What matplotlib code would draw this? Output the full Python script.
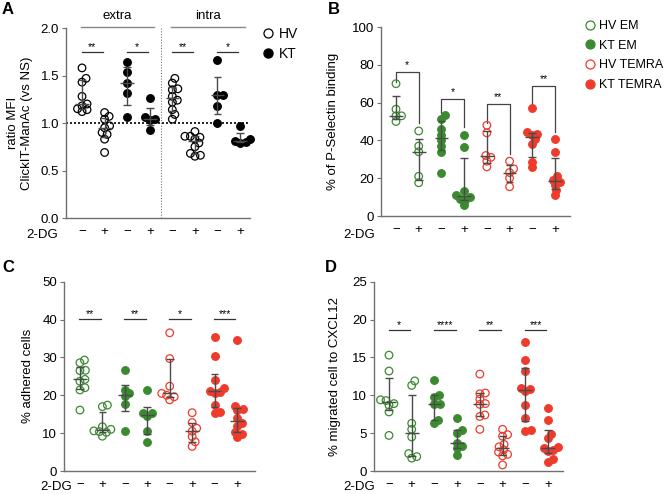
import numpy as np
import matplotlib
matplotlib.use("Agg")
import matplotlib.pyplot as plt
from matplotlib.lines import Line2D

plt.rcParams['font.family'] = ['Liberation Sans', 'DejaVu Sans']

GREEN = '#3b8a30'
RED = '#ee3b2b'
AXC = '#707070'
ERRC = '#4a4a4a'
FS = 9.5

dg_labels = ['\u2212', '+'] * 4

# --- panel A: ratio MFI ClickIT-ManAc (HV-, HV+, KT-, KT+) extra then intra
a_hv_extra_ns = [1.58, 1.47, 1.43, 1.28, 1.20, 1.18, 1.15, 1.14, 1.12]
a_hv_extra_dg = [1.11, 1.07, 1.04, 0.97, 0.95, 0.90, 0.88, 0.83, 0.69]
a_kt_extra_ns = [1.64, 1.54, 1.42, 1.32, 1.06]
a_kt_extra_dg = [1.26, 1.06, 1.04, 1.03, 0.93]
a_hv_intra_ns = [1.47, 1.42, 1.36, 1.35, 1.28, 1.24, 1.22, 1.14, 1.09, 1.04]
a_hv_intra_dg = [0.91, 0.86, 0.86, 0.85, 0.83, 0.79, 0.75, 0.68, 0.66, 0.65]
a_kt_intra_ns = [1.66, 1.30, 1.30, 1.18, 1.00]
a_kt_intra_dg = [0.97, 0.83, 0.81, 0.80, 0.79]
a_stars = ['**', '*', '**', '*']

# --- panel B: % of P-Selectin binding
b_hv_em_ns = [70, 56.5, 53, 53, 50]
b_hv_em_dg = [45, 37, 34, 21, 17.6]
b_kt_em_ns = [53.5, 51.5, 46, 43, 40, 37, 34, 23]
b_kt_em_dg = [43, 36.6, 13.4, 11, 9.9, 9, 8.5, 5.8]
b_hv_temra_ns = [48, 44, 32, 31, 29, 26]
b_hv_temra_dg = [29, 25, 23, 20, 15.5]
b_kt_temra_ns = [57.4, 44.2, 43.3, 42.8, 40.5, 38, 28.7, 25.7]
b_kt_temra_dg = [40.5, 34, 21, 19, 18, 16.4, 13.7, 11]
b_stars = ['*', '*', '**', '**']

# --- panel C: % adhered cells
c_hv_em_ns = [29.3, 28.6, 26.6, 26.5, 24.2, 23.7, 22.0, 21.4, 16.1]
c_hv_em_dg = [17.4, 17.0, 11.7, 11.0, 10.6, 10.4, 10.2, 9.2]
c_kt_em_ns = [26.8, 21.4, 20.5, 19.8, 17.6, 10.6]
c_kt_em_dg = [21.3, 15.4, 15.2, 14.5, 10.6, 7.7]
c_hv_temra_ns = [36.5, 29.7, 22.4, 20.5, 20.0, 19.6, 18.8]
c_hv_temra_dg = [15.4, 12.8, 11.3, 10.5, 9.1, 7.7, 6.5]
c_kt_temra_ns = [35.4, 30.3, 24.0, 21.8, 21.2, 20.8, 20.5, 17.5, 15.6, 15.2]
c_kt_temra_dg = [34.6, 17.3, 16.3, 16.0, 14.0, 12.6, 11.8, 10.4, 9.8, 9.1]
c_stars = ['**', '**', '*', '***']

# --- panel D: % migrated cell to CXCL12
d_hv_em_ns = [15.3, 13.2, 9.4, 9.3, 8.9, 8.7, 7.8, 4.7]
d_hv_em_dg = [11.9, 11.3, 6.3, 5.5, 4.5, 2.3, 1.9, 1.7]
d_kt_em_ns = [12.0, 10.0, 9.8, 8.9, 8.8, 6.8, 6.3]
d_kt_em_dg = [7.0, 5.4, 5.0, 3.7, 3.3, 3.0, 2.1]
d_hv_temra_ns = [12.8, 10.3, 10.2, 9.5, 8.9, 8.8, 7.4, 7.2, 5.5]
d_hv_temra_dg = [5.5, 4.8, 4.6, 3.5, 3.2, 2.8, 2.5, 2.2, 2.0, 0.8]
d_kt_temra_ns = [17.0, 14.6, 13.2, 11.0, 10.8, 10.5, 8.7, 7.0, 5.4, 5.3]
d_kt_temra_dg = [8.3, 6.7, 4.9, 4.3, 3.2, 3.0, 2.8, 2.6, 1.6, 1.2]
d_stars = ['*', '****', '**', '***']

legend_a = ['HV', 'KT']
legend_b = ['HV EM', 'KT EM', 'HV TEMRA', 'KT TEMRA']

W, H = 669, 494


def rect(l, t, r, b):
    return [l / W, 1 - b / H, (r - l) / W, (b - t) / H]


def swarm(ax, x0, vals, d=5.2):
    # simple beeswarm in pixel space
    pts = ax.transData.transform(np.column_stack([np.full(len(vals), x0), vals]))
    order = np.argsort(pts[:, 1])
    placed = []
    out = np.zeros(len(vals))
    for idx in order:
        px, py = pts[idx]
        for k in range(60):
            offs = [0.0] if k == 0 else [k * 0.5, -k * 0.5]
            ok = None
            for o in offs:
                if all((px + o - qx) ** 2 + (py - qy) ** 2 >= d * d for qx, qy in placed):
                    ok = o
                    break
            if ok is not None:
                break
        placed.append((px + ok, py))
        out[idx] = ax.transData.inverted().transform([[px + ok, py]])[0][0]
    return out


def panel(ax, groups, colors, filled, xlim, ylim, yticks, ylabel, fmt):
    ax.set_xlim(*xlim)
    ax.set_ylim(*ylim)
    for sp in ['top', 'right']:
        ax.spines[sp].set_visible(False)
    for sp in ['left', 'bottom']:
        ax.spines[sp].set_color(AXC)
        ax.spines[sp].set_linewidth(1.0)
    ax.set_yticks(yticks)
    ax.set_yticklabels([fmt.format(t) for t in yticks])
    ax.tick_params(axis='y', length=3, width=0.8, color=AXC, labelsize=FS, pad=2)
    ax.set_xticks(range(8))
    ax.set_xticklabels(dg_labels)
    ax.tick_params(axis='x', length=0, labelsize=FS, pad=6)
    ax.set_ylabel(ylabel, fontsize=FS, va='center')
    for i, vals in enumerate(groups):
        xs = swarm(ax, i, vals)
        c = colors[i]
        ax.scatter(xs, vals, s=30, facecolors=c if filled[i] else 'none',
                   edgecolors=c, linewidths=0.9, zorder=3, clip_on=False)
        med = np.median(vals)
        q1, q3 = np.percentile(vals, [25, 75], method='weibull')
        ax.vlines(i, q1, q3, color=ERRC, lw=1.0, zorder=4)
        ax.hlines([q1, q3], i - 0.17, i + 0.17, color=ERRC, lw=1.0, zorder=4)
        ax.hlines(med, i - 0.3, i + 0.3, color=ERRC, lw=1.0, zorder=4)


def flat_sig(ax, y, stars):
    for k, s in enumerate(stars):
        x0 = 2 * k
        ax.plot([x0 - 0.02, x0 + 0.93], [y, y], color='#333333', lw=0.9, clip_on=False)
        ax.text(x0 + 0.45, y, s, ha='center', va='bottom', fontsize=7.5)


fig = plt.figure(figsize=(W / 100, H / 100), dpi=100)

# ---------------- A
axA = fig.add_axes(rect(66, 28, 250, 218))
groupsA = [a_hv_extra_ns, a_hv_extra_dg, a_kt_extra_ns, a_kt_extra_dg,
           a_hv_intra_ns, a_hv_intra_dg, a_kt_intra_ns, a_kt_intra_dg]
panel(axA, groupsA, ['k'] * 8, [False, False, True, True] * 2,
      (-0.71, 7.44), (0, 2.0), [0, 0.5, 1.0, 1.5, 2.0],
      'ratio MFI\nClickIT-ManAc (vs NS)', '{:.1f}')
axA.yaxis.set_label_coords(-0.25, 0.5)
axA.axhline(1.0, ls=(0, (1.2, 1.2)), color='k', lw=1.2, zorder=1)
axA.axvline(3.5, ls=(0, (1, 1.5)), color='#777777', lw=0.8, zorder=1)
flat_sig(axA, 1.75, a_stars)
for x0, x1, lab in [(-0.05, 3.2, 'extra'), (3.95, 7.2, 'intra')]:
    axA.plot([x0, x1], [2.015, 2.015], color='#888888', lw=1.0, clip_on=False)
    axA.text((x0 + x1) / 2, 2.06, lab, ha='center', va='bottom', fontsize=FS)
hA = [Line2D([], [], ls='', marker='o', mfc='none', mec='k', mew=0.9, ms=6.5),
      Line2D([], [], ls='', marker='o', mfc='k', mec='k', ms=6.5)]
axA.legend(hA, legend_a, loc='upper left', bbox_to_anchor=(262 / W, 1 - 27 / H),
           bbox_transform=fig.transFigure, frameon=False, fontsize=10,
           handlelength=0.8, handletextpad=0.4, labelspacing=0.4,
           borderpad=0, borderaxespad=0)

# ---------------- B
axB = fig.add_axes(rect(381, 27, 570, 216))
groupsB = [b_hv_em_ns, b_hv_em_dg, b_kt_em_ns, b_kt_em_dg,
           b_hv_temra_ns, b_hv_temra_dg, b_kt_temra_ns, b_kt_temra_dg]
colsB = [GREEN] * 4 + [RED] * 4
fillB = [False, False, True, True] * 2
panel(axB, groupsB, colsB, fillB, (-0.66, 7.66), (0, 100), range(0, 101, 20),
      '% of P-Selectin binding', '{:d}')
axB.yaxis.set_label_coords(-0.255, 0.5)
b_tops = [76, 61.8, 59.5, 69]
for k, s in enumerate(b_stars):
    x0, x1 = 2 * k, 2 * k + 1
    l_end = max(groupsB[x0]) + 1.0
    r_end = max(groupsB[x1]) + 4.0
    axB.plot([x0, x0, x1, x1], [l_end, b_tops[k], b_tops[k], r_end],
             color='#444444', lw=0.9)
    axB.text(x0 + 0.5, b_tops[k] + 1.0, s, ha='center', va='bottom', fontsize=7.5)
hB = [Line2D([], [], ls='', marker='o', mfc='none' if f else c, mec=c, mew=0.9, ms=6.5)
      for c, f in zip([GREEN, GREEN, RED, RED], [True, False, True, False])]
axB.legend(hB, legend_b, loc='upper left', bbox_to_anchor=(585 / W, 1 - 20 / H),
           bbox_transform=fig.transFigure, frameon=False, fontsize=9,
           handlelength=0.8, handletextpad=0.35, labelspacing=0.62,
           borderpad=0, borderaxespad=0)

# ---------------- C
axC = fig.add_axes(rect(64, 281.7, 255, 471))
groupsC = [c_hv_em_ns, c_hv_em_dg, c_kt_em_ns, c_kt_em_dg,
           c_hv_temra_ns, c_hv_temra_dg, c_kt_temra_ns, c_kt_temra_dg]
panel(axC, groupsC, colsB, fillB, (-0.71, 7.8), (0, 50), range(0, 51, 10),
      '% adhered cells', '{:d}')
axC.yaxis.set_label_coords(-0.19, 0.5)
flat_sig(axC, 40.2, c_stars)

# ---------------- D
axD = fig.add_axes(rect(374, 281.7, 563, 471))
groupsD = [d_hv_em_ns, d_hv_em_dg, d_kt_em_ns, d_kt_em_dg,
           d_hv_temra_ns, d_hv_temra_dg, d_kt_temra_ns, d_kt_temra_dg]
panel(axD, groupsD, colsB, fillB, (-0.66, 7.66), (0, 25), range(0, 26, 5),
      '% migrated cell to CXCL12', '{:d}')
axD.yaxis.set_label_coords(-0.205, 0.5)
flat_sig(axD, 18.6, d_stars)

# 2-DG row labels and panel letters
for x, y in [(58, 235), (375, 235), (72, 487), (375, 487)]:
    fig.text(x / W, 1 - y / H, '2-DG', ha='right', va='center', fontsize=FS)
for x, y, l in [(2, 10, 'A'), (328, 10, 'B'), (2, 267, 'C'), (325, 267, 'D')]:
    fig.text(x / W, 1 - y / H, l, ha='left', va='center', fontsize=12, fontweight='bold')

fig.savefig('out.png', dpi=100)
